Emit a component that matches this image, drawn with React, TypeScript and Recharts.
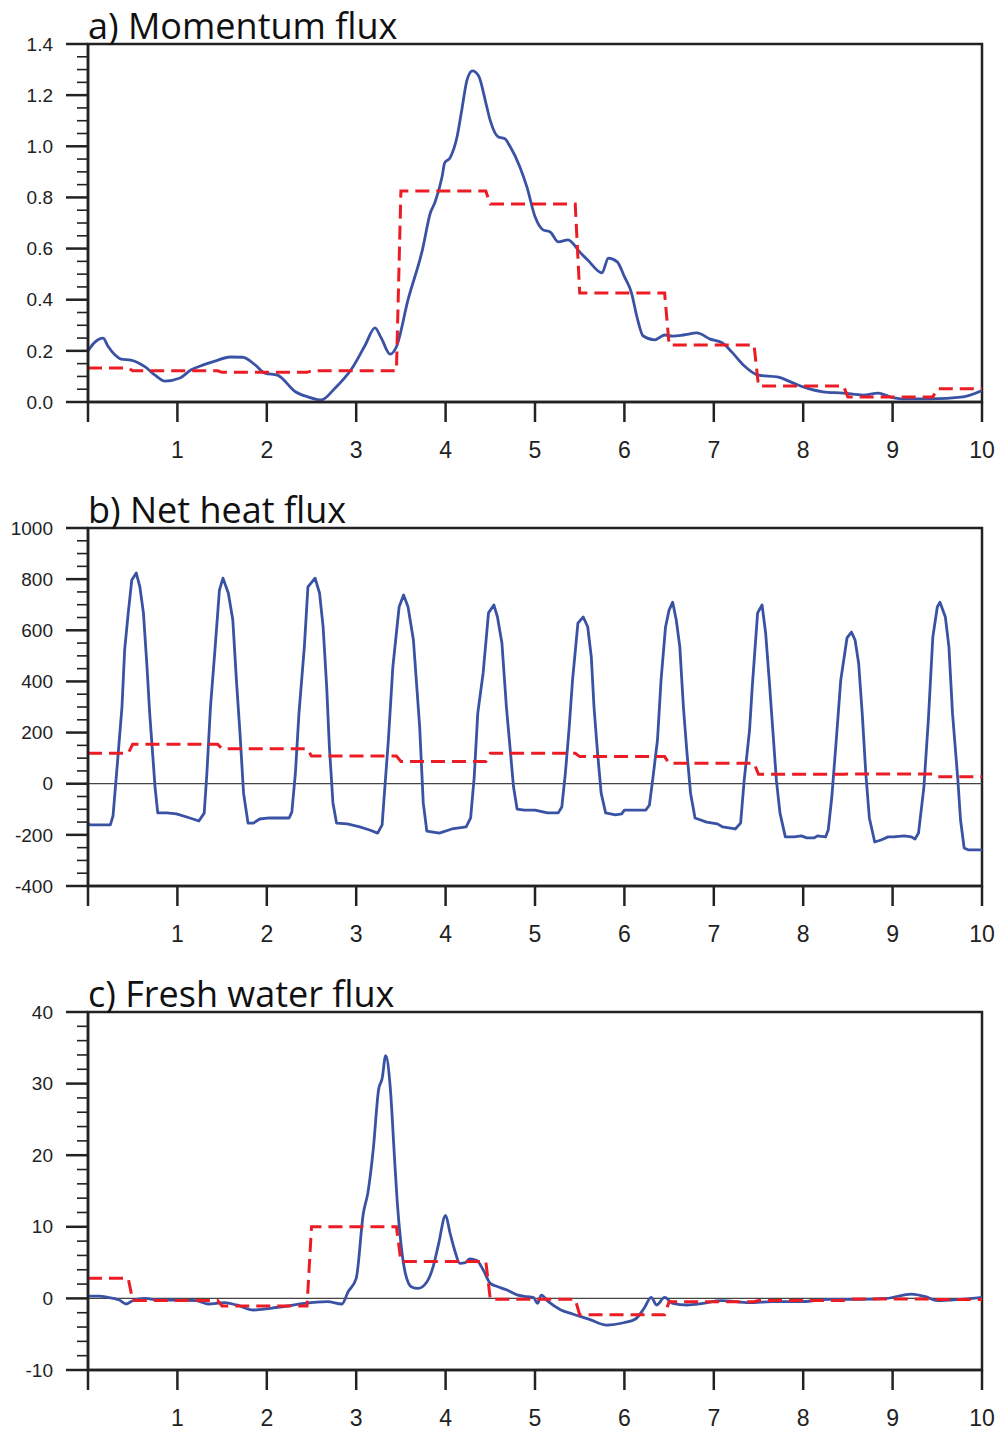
import React from 'react';
import { LineChart, Line, XAxis, YAxis, ReferenceLine, ReferenceArea } from 'recharts';

// x axis (days)
const xTicks = [0, 1, 2, 3, 4, 5, 6, 7, 8, 9, 10];

// a) momentum flux
const momentumBlue: [number, number][] = [
  [0, 0.2], [0.08, 0.235], [0.17, 0.25], [0.22, 0.22], [0.3, 0.185], [0.37, 0.168], [0.48, 0.164],
  [0.64, 0.137], [0.75, 0.105], [0.86, 0.082], [1.03, 0.094], [1.15, 0.125], [1.29, 0.145],
  [1.42, 0.16], [1.59, 0.176], [1.73, 0.175], [1.87, 0.145], [1.98, 0.113], [2.12, 0.105],
  [2.32, 0.04], [2.46, 0.02], [2.61, 0.008], [2.76, 0.053], [2.95, 0.13], [3.1, 0.222],
  [3.21, 0.29], [3.28, 0.25], [3.38, 0.187], [3.45, 0.216], [3.58, 0.4], [3.74, 0.594],
  [3.83, 0.74], [3.88, 0.78], [3.96, 0.88], [3.99, 0.935], [4.05, 0.955], [4.13, 1.04],
  [4.18, 1.14], [4.24, 1.26], [4.3, 1.295], [4.37, 1.275], [4.45, 1.17], [4.5, 1.1],
  [4.59, 1.036], [4.66, 1.03], [4.72, 1.0], [4.83, 0.92], [4.91, 0.84], [5.0, 0.725],
  [5.09, 0.673], [5.17, 0.665], [5.26, 0.626], [5.37, 0.634], [5.5, 0.587], [5.59, 0.555],
  [5.75, 0.505], [5.82, 0.563], [5.92, 0.548], [6.0, 0.49], [6.08, 0.426], [6.14, 0.333],
  [6.21, 0.258], [6.34, 0.243], [6.45, 0.262], [6.54, 0.258], [6.66, 0.262], [6.81, 0.27],
  [6.96, 0.246], [7.1, 0.23], [7.2, 0.196], [7.33, 0.145], [7.5, 0.105], [7.71, 0.098],
  [7.89, 0.074], [8.0, 0.059], [8.22, 0.04], [8.45, 0.035], [8.67, 0.027], [8.84, 0.035],
  [8.97, 0.02], [9.12, 0.012], [9.42, 0.012], [9.79, 0.02], [10, 0.045],
];
const momentumDaily = [0.133, 0.122, 0.116, 0.122, 0.825, 0.774, 0.426, 0.223, 0.063, 0.02, 0.052];
const momentumMajor = [0, 0.2, 0.4, 0.6, 0.8, 1.0, 1.2, 1.4];

// b) net heat flux
const heatBlue: [number, number][] = [
  [0, -154], [0.02, -161], [0.25, -161], [0.28, -126], [0.32, 42], [0.38, 300], [0.41, 523],
  [0.45, 668], [0.49, 797], [0.54, 824], [0.58, 770], [0.62, 668], [0.66, 457], [0.69, 276],
  [0.75, -13], [0.78, -114], [0.88, -114], [0.99, -118], [1.14, -134], [1.24, -146], [1.3, -115],
  [1.33, 42], [1.37, 300], [1.42, 523], [1.47, 757], [1.51, 804], [1.57, 745], [1.62, 640],
  [1.66, 405], [1.7, 198], [1.74, -37], [1.79, -154], [1.85, -154], [1.92, -138], [2.03, -134],
  [2.25, -134], [2.28, -111], [2.32, 42], [2.36, 276], [2.42, 535], [2.46, 770], [2.54, 804],
  [2.59, 745], [2.63, 613], [2.67, 378], [2.7, 144], [2.74, -75], [2.78, -154], [2.9, -157],
  [3.04, -169], [3.15, -181], [3.24, -193], [3.29, -161], [3.31, -64], [3.36, 171], [3.41, 457],
  [3.48, 691], [3.53, 738], [3.58, 691], [3.64, 562], [3.71, 222], [3.75, -75], [3.79, -185],
  [3.93, -193], [4.07, -177], [4.23, -169], [4.28, -134], [4.32, 26], [4.36, 276], [4.42, 433],
  [4.48, 668], [4.54, 699], [4.58, 652], [4.63, 550], [4.68, 300], [4.72, 144], [4.76, -13],
  [4.8, -99], [4.88, -103], [5.0, -103], [5.14, -114], [5.26, -114], [5.3, -91], [5.34, 42],
  [5.38, 210], [5.42, 405], [5.48, 628], [5.54, 652], [5.59, 613], [5.63, 495], [5.66, 300],
  [5.7, 120], [5.74, -37], [5.79, -114], [5.9, -122], [5.97, -118], [6.0, -103], [6.24, -103],
  [6.28, -83], [6.32, 26], [6.37, 171], [6.41, 405], [6.46, 613], [6.5, 679], [6.54, 710],
  [6.58, 640], [6.62, 535], [6.66, 300], [6.7, 120], [6.74, -37], [6.79, -134], [6.92, -150],
  [7.04, -157], [7.1, -169], [7.24, -177], [7.3, -154], [7.34, 14], [7.4, 210], [7.43, 378],
  [7.49, 668], [7.54, 699], [7.58, 589], [7.62, 405], [7.66, 210], [7.7, 14], [7.74, -114],
  [7.8, -208], [7.9, -208], [7.98, -204], [8.04, -212], [8.12, -212], [8.16, -204], [8.25, -208],
  [8.28, -181], [8.32, -52], [8.37, 171], [8.42, 405], [8.49, 570], [8.54, 593], [8.58, 562],
  [8.62, 472], [8.66, 276], [8.7, 42], [8.74, -134], [8.8, -228], [8.87, -220], [8.95, -208],
  [9.01, -208], [9.13, -204], [9.21, -208], [9.25, -216], [9.29, -193], [9.35, -13], [9.4, 250],
  [9.45, 574], [9.5, 691], [9.53, 710], [9.59, 652], [9.63, 535], [9.67, 276], [9.73, 14],
  [9.76, -142], [9.8, -251], [9.85, -259], [10, -259],
];
const heatDaily = [119, 154, 137, 108, 87, 119, 106, 80, 37, 38, 27];
const heatMajor = [-400, -200, 0, 200, 400, 600, 800, 1000];

// c) fresh water flux
const freshBlue: [number, number][] = [
  [0, 0.33], [0.13, 0.33], [0.22, 0.15], [0.35, -0.22], [0.43, -0.78], [0.5, -0.32], [0.64, 0],
  [0.77, -0.22], [1.02, -0.22], [1.21, -0.32], [1.34, -0.78], [1.53, -0.6], [1.66, -0.92],
  [1.85, -1.62], [2.04, -1.38], [2.23, -1.06], [2.42, -0.69], [2.68, -0.46], [2.84, -0.78],
  [2.91, 0.94], [3.0, 2.8], [3.08, 11.9], [3.13, 14.7], [3.19, 20.7], [3.25, 29.1], [3.29, 30.7],
  [3.33, 33.9], [3.38, 29.6], [3.43, 19.3], [3.46, 13.3], [3.5, 7.7], [3.55, 3.5], [3.62, 1.6],
  [3.69, 1.4], [3.79, 2.3], [3.86, 4.4], [3.92, 7.5], [4.0, 11.6], [4.05, 9.1], [4.1, 6.8],
  [4.16, 4.9], [4.22, 5.0], [4.27, 5.5], [4.35, 5.3], [4.42, 4.0], [4.5, 2.1], [4.57, 1.7],
  [4.68, 1.2], [4.8, 0.5], [4.91, 0.24], [4.98, 0.15], [5.03, -0.69], [5.07, 0.47], [5.15, -0.46],
  [5.29, -1.62], [5.42, -2.18], [5.61, -2.92], [5.8, -3.72], [5.99, -3.4], [6.12, -2.92],
  [6.22, -1.38], [6.3, 0.15], [6.36, -0.92], [6.45, 0.15], [6.54, -0.69], [6.7, -0.92],
  [6.88, -0.69], [7.08, -0.32], [7.4, -0.6], [7.65, -0.46], [7.97, -0.46], [8.29, -0.13],
  [8.6, -0.13], [8.93, 0], [9.21, 0.61], [9.37, 0.24], [9.5, -0.32], [9.76, -0.13], [10, 0.15],
];
const freshDaily = [2.8, -0.3, -1.06, 10.0, 5.15, -0.13, -2.3, -0.46, -0.3, -0.1, -0.15];
const freshMajor = [-10, 0, 10, 20, 30, 40];

const BLUE = '#3a52a4';
const RED = '#ec1c24';
const INK = '#222';
const TICK_FONT = '"Liberation Sans", Arial, Helvetica, sans-serif';

const toPoints = (pairs: [number, number][]) => pairs.map(([x, y]) => ({ x, y }));

// daily means, each centred on a day boundary (k-0.5 .. k+0.5)
const stepSeries = (vals: number[]) =>
  vals.flatMap((v, k) => [
    { x: Math.max(0, k - 0.5), y: v },
    { x: Math.min(10, k + 0.45), y: v },
  ]);

const withMinors = (majors: number[], minorPer: number) => {
  const out: number[] = [];
  for (let i = 0; i < majors.length - 1; i++) {
    const step = (majors[i + 1] - majors[i]) / (minorPer + 1);
    for (let j = 0; j <= minorPer; j++) out.push(+(majors[i] + j * step).toFixed(6));
  }
  out.push(majors[majors.length - 1]);
  return out;
};

const XTick = (props: any) => {
  const { x, y, payload } = props;
  return (
    <g>
      <line x1={x} x2={x} y1={y} y2={y + 20} stroke={INK} strokeWidth={2.5} />
      {payload.value !== 0 && (
        <text x={x} y={y + 56} textAnchor="middle" fontSize={23} fontFamily={TICK_FONT} fill={INK}>
          {payload.value}
        </text>
      )}
    </g>
  );
};

const YTick = (props: any) => {
  const { x, y, payload, majors, digits } = props;
  const isMajor = majors.some((m: number) => Math.abs(m - payload.value) < 1e-6);
  return (
    <g>
      <line
        x1={x - (isMajor ? 22 : 11)}
        x2={x}
        y1={y}
        y2={y}
        stroke={INK}
        strokeWidth={isMajor ? 2.5 : 1.6}
      />
      {isMajor && (
        <text x={x - 35} y={y} dy="0.35em" textAnchor="end" fontSize={19} fontFamily={TICK_FONT} fill={INK}>
          {payload.value.toFixed(digits)}
        </text>
      )}
    </g>
  );
};

type PanelProps = {
  title: string;
  top: number;
  height: number;
  blue: [number, number][];
  curve: 'monotone' | 'linear';
  daily: number[];
  majors: number[];
  minorPer: number;
  digits: number;
  zero: boolean;
};

const Panel = ({ title, top, height, blue, curve, daily, majors, minorPer, digits, zero }: PanelProps) => {
  const yMin = majors[0];
  const yMax = majors[majors.length - 1];
  const yTicks = withMinors(majors, minorPer);
  return (
    <div style={{ position: 'absolute', left: 0, top, width: 998, height }}>
      <LineChart width={998} height={height} margin={{ top: 44, right: 16, left: 0, bottom: 0 }}>
        <XAxis
          dataKey="x"
          type="number"
          domain={[0, 10]}
          ticks={xTicks}
          interval={0}
          tickSize={0}
          tickMargin={0}
          height={height - 44 - 358}
          axisLine={{ stroke: INK, strokeWidth: 2.5 }}
          tick={(p: any) => <XTick {...p} />}
          allowDataOverflow
        />
        <YAxis
          type="number"
          domain={[yMin, yMax]}
          ticks={yTicks}
          interval={0}
          width={88}
          tickSize={0}
          tickMargin={0}
          axisLine={{ stroke: INK, strokeWidth: 2.5 }}
          tick={(p: any) => <YTick {...p} majors={majors} digits={digits} />}
          allowDataOverflow
        />
        {zero && <ReferenceLine y={0} stroke="#444" strokeWidth={1.2} />}
        <ReferenceArea x1={0} x2={10} y1={yMin} y2={yMax} fill="none" stroke={INK} strokeWidth={2.5} />
        <Line
          data={toPoints(blue)}
          dataKey="y"
          type={curve}
          stroke={BLUE}
          strokeWidth={2.8}
          strokeLinejoin="round"
          dot={false}
          isAnimationActive={false}
        />
        <Line
          data={stepSeries(daily)}
          dataKey="y"
          type="linear"
          stroke={RED}
          strokeWidth={3}
          strokeDasharray="14 7"
          dot={false}
          isAnimationActive={false}
        />
      </LineChart>
      <svg width={998} height={50} style={{ position: 'absolute', left: 0, top: 0, pointerEvents: 'none' }}>
        <text x={88} y={39} fontSize={36} fontFamily='"Open Sans", "Noto Sans", sans-serif' fill="#111">
          {title}
        </text>
      </svg>
    </div>
  );
};

export default function App() {
  return (
    <div style={{ position: 'absolute', left: 0, top: 0, width: 998, height: 1432, background: '#fff' }}>
      <Panel title="a) Momentum flux" top={0} height={484} blue={momentumBlue} curve="monotone"
        daily={momentumDaily} majors={momentumMajor} minorPer={3} digits={1} zero={false} />
      <Panel title="b) Net heat flux" top={484} height={484} blue={heatBlue} curve="linear"
        daily={heatDaily} majors={heatMajor} minorPer={3} digits={0} zero={true} />
      <Panel title="c) Fresh water flux" top={968} height={464} blue={freshBlue} curve="monotone"
        daily={freshDaily} majors={freshMajor} minorPer={4} digits={0} zero={true} />
    </div>
  );
}
